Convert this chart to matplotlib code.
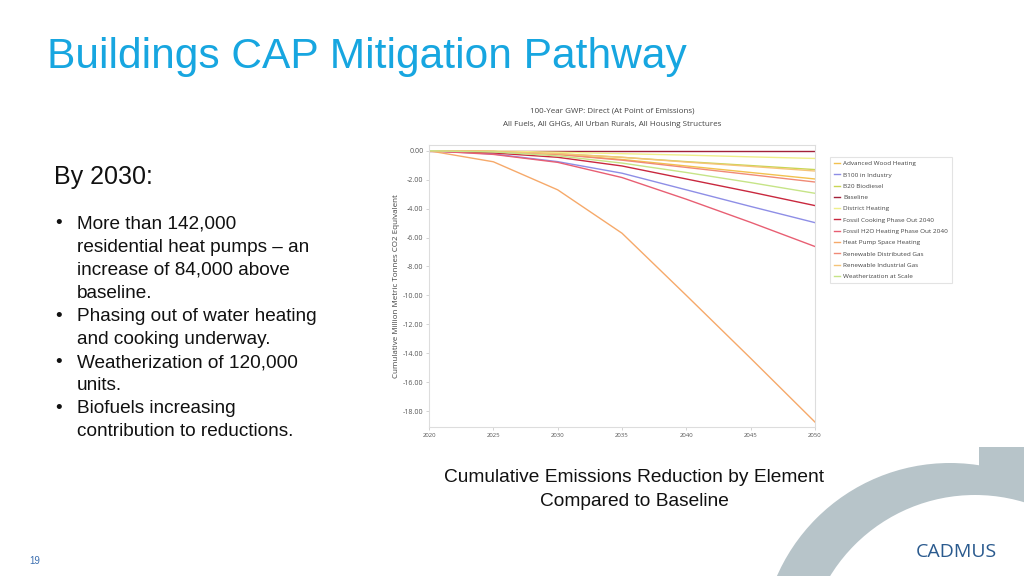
import matplotlib
matplotlib.use("Agg")
import matplotlib.pyplot as plt
from matplotlib.patches import Circle, Rectangle

plt.rcParams['axes.unicode_minus'] = False

# data (cumulative million tonnes CO2e vs baseline)
years = [2020, 2025, 2030, 2035, 2040, 2045, 2050]
advanced_wood = [0, -0.05, -0.25, -0.60, -1.05, -1.50, -1.95]
b100_industry = [0, -0.22, -0.75, -1.55, -2.70, -3.85, -4.97]
b20_biodiesel = [0, -0.05, -0.20, -0.45, -0.75, -1.02, -1.30]
baseline = [0, 0, 0, 0, 0, 0, 0]
district_heating = [0, -0.02, -0.10, -0.20, -0.30, -0.42, -0.53]
fossil_cooking = [0, -0.15, -0.45, -1.05, -1.95, -2.85, -3.79]
fossil_h2o = [0, -0.25, -0.80, -1.85, -3.35, -4.95, -6.62]
heat_pump = [0, -0.76, -2.70, -5.70, -10.00, -14.35, -18.76]
renew_dist_gas = [0, -0.05, -0.25, -0.65, -1.15, -1.65, -2.16]
renew_ind_gas = [0, -0.05, -0.20, -0.45, -0.78, -1.08, -1.40]
weatherization = [0, -0.08, -0.35, -0.85, -1.50, -2.20, -2.94]

series = [
    ('Advanced Wood Heating', advanced_wood, '#F2C14E'),
    ('B100 in Industry', b100_industry, '#8E8EE6'),
    ('B20 Biodiesel', b20_biodiesel, '#C9D654'),
    ('Baseline', baseline, '#A3223A'),
    ('District Heating', district_heating, '#EFEF8A'),
    ('Fossil Cooking Phase Out 2040', fossil_cooking, '#C9283E'),
    ('Fossil H2O Heating Phase Out 2040', fossil_h2o, '#E85F73'),
    ('Heat Pump Space Heating', heat_pump, '#F6A96A'),
    ('Renewable Distributed Gas', renew_dist_gas, '#F08A76'),
    ('Renewable Industrial Gas', renew_ind_gas, '#F5C478'),
    ('Weatherization at Scale', weatherization, '#C6E487'),
]

bullets = [
    ['More than 142,000', 'residential heat pumps \u2013 an',
     'increase of 84,000 above', 'baseline.'],
    ['Phasing out of water heating', 'and cooking underway.'],
    ['Weatherization of 120,000', 'units.'],
    ['Biofuels increasing', 'contribution to reductions.'],
]

fig = plt.figure(figsize=(10.24, 5.76), dpi=100)

# slide background layer in pixel coordinates
bg = fig.add_axes([0, 0, 1, 1])
bg.set_xlim(0, 1024)
bg.set_ylim(576, 0)
bg.axis('off')

grey = '#B7C4C9'
bg.add_patch(Circle((950, 652), 189, color=grey, lw=0))
bg.add_patch(Rectangle((979, 447), 45, 60, color=grey, lw=0))
bg.add_patch(Circle((975, 665), 170, color='white', lw=0))

slide_font = 'Liberation Sans'
bg.text(47, 57, 'Buildings CAP Mitigation Pathway', fontsize=30.6, color='#17A6E0',
        family=slide_font, va='center', ha='left')
bg.text(54, 177, 'By 2030:', fontsize=18, family=slide_font, va='center', color='#111111')

y = 224
for item in bullets:
    bg.text(55, y, '\u2022', fontsize=13.7, family=slide_font, va='center', color='#111111')
    for line in item:
        bg.text(77, y, line, fontsize=13.7, family=slide_font, va='center', color='#111111')
        y += 23.1

bg.text(634, 478, 'Cumulative Emissions Reduction by Element', fontsize=13.8,
        family=slide_font, ha='center', va='center', color='#111111')
bg.text(634, 501, 'Compared to Baseline', fontsize=13.8,
        family=slide_font, ha='center', va='center', color='#111111')

bg.text(956, 552, 'CADMUS', fontsize=14, family='Open Sans', color='#2A5A8E',
        ha='center', va='center')
bg.text(35, 561, '19', fontsize=7, family=slide_font, color='#3C6FB0',
        ha='center', va='center')

# chart
chart_font = 'Open Sans'
ax = fig.add_axes([429 / 1024, 1 - 427 / 576, 386 / 1024, 282 / 576])
for name, vals, col in series:
    ax.plot(years, vals, color=col, lw=1.0, label=name)

ax.set_xlim(2020, 2050)
ax.set_ylim(-19.1, 0.4)
ax.set_xticks(years)
ax.set_yticks(range(0, -19, -2))
ax.set_yticklabels([f'{v:.2f}' for v in range(0, -19, -2)])
ax.tick_params(axis='both', labelsize=5.1, colors='#CCCCCC', labelcolor='#555555',
               length=2.5, width=0.6, pad=1.5)
for lab in ax.get_xticklabels() + ax.get_yticklabels():
    lab.set_family(chart_font)
ax.tick_params(axis='x', labelsize=4.3)
for s in ax.spines.values():
    s.set_color('#DDDDDD')
    s.set_linewidth(0.8)

ax.set_ylabel('Cumulative Million Metric Tonnes CO2 Equivalent', fontsize=5.8,
              family=chart_font, color='#444444', labelpad=2)

fig.text(612 / 1024, 1 - 111 / 576, '100-Year GWP: Direct (At Point of Emissions)',
         fontsize=5.8, family=chart_font, color='#444444', ha='center', va='center')
fig.text(612 / 1024, 1 - 125 / 576, 'All Fuels, All GHGs, All Urban Rurals, All Housing Structures',
         fontsize=5.8, family=chart_font, color='#444444', ha='center', va='center')

leg = ax.legend(loc='upper left', bbox_to_anchor=(830 / 1024, 1 - 157 / 576),
                bbox_transform=fig.transFigure, prop={'family': chart_font, 'size': 4.6},
                frameon=True, fancybox=False, edgecolor='#DDDDDD', handlelength=1.0,
                handletextpad=0.5, labelspacing=0.91, borderpad=0.6, borderaxespad=0)
for t in leg.get_texts():
    t.set_color('#444444')
leg.get_frame().set_linewidth(0.8)

fig.savefig('out.png', dpi=100)
